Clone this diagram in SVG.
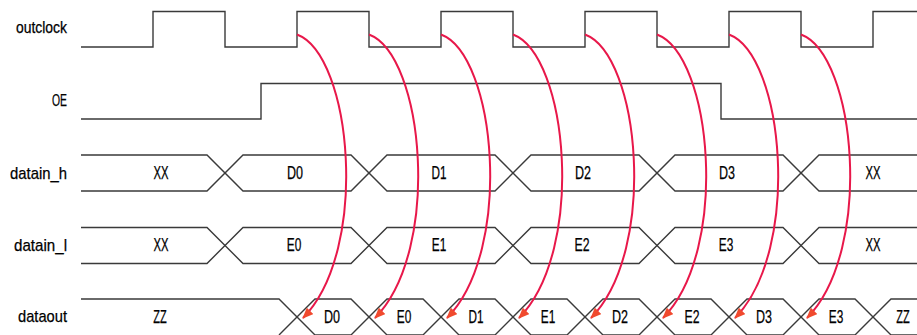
<svg xmlns="http://www.w3.org/2000/svg" width="917" height="335" viewBox="0 0 917 335">
<style>
.w{fill:none;stroke:#3a3a3a;stroke-width:1.4}
.c{fill:none;stroke:#e8184a;stroke-width:2}
.lb{font-family:"Liberation Sans Narrow","Liberation Sans",Arial,sans-serif;font-size:17px;fill:#000;text-anchor:end;stroke:#000;stroke-width:0.25}
.v{font-family:"Liberation Sans Narrow","Liberation Sans",Arial,sans-serif;font-size:17.5px;fill:#000;text-anchor:middle;stroke:#000;stroke-width:0.25}
</style>
<defs>
<marker id="ah" markerUnits="userSpaceOnUse" markerWidth="11" markerHeight="9" refX="10" refY="4.5" orient="auto">
<path d="M0,0 L11,4.5 L0,9 z" fill="#f04a2e"/>
</marker>
</defs>
<rect width="917" height="335" fill="#fff"/>
<g id="outclock">
<text class="lb" x="67" y="33" textLength="51" lengthAdjust="spacingAndGlyphs">outclock</text>
<path class="w" d="M81,47 H153 V11.5 H225 V47 H297 V11.5 H369 V47 H441 V11.5 H513 V47 H585 V11.5 H657 V47 H729 V11.5 H801 V47 H873 V11.5 H917"/>
</g>
<g id="OE">
<text class="lb" x="67" y="106" textLength="15" lengthAdjust="spacingAndGlyphs">OE</text>
<path class="w" d="M81,119 H261 V83.5 H721 V119 H917"/>
</g>
<g id="datain_h">
<text class="lb" x="67" y="179" textLength="57" lengthAdjust="spacingAndGlyphs">datain_h</text>
<path class="w" d="M81,155 H207 L243,191 H351 L387,155 H495 L531,191 H639 L675,155 H783 L819,191 H917"/>
<path class="w" d="M81,191 H207 L243,155 H351 L387,191 H495 L531,155 H639 L675,191 H783 L819,155 H917"/>
<text class="v" x="161" y="178.5" textLength="15" lengthAdjust="spacingAndGlyphs">XX</text>
<text class="v" x="295" y="178.5" textLength="16" lengthAdjust="spacingAndGlyphs">D0</text>
<text class="v" x="439" y="178.5" textLength="15" lengthAdjust="spacingAndGlyphs">D1</text>
<text class="v" x="583" y="178.5" textLength="16" lengthAdjust="spacingAndGlyphs">D2</text>
<text class="v" x="727" y="178.5" textLength="16" lengthAdjust="spacingAndGlyphs">D3</text>
<text class="v" x="873" y="178.5" textLength="15" lengthAdjust="spacingAndGlyphs">XX</text>
</g>
<g id="datain_l">
<text class="lb" x="67" y="251" textLength="53" lengthAdjust="spacingAndGlyphs">datain_l</text>
<path class="w" d="M81,227.5 H207 L243,263.5 H351 L387,227.5 H495 L531,263.5 H639 L675,227.5 H783 L819,263.5 H917"/>
<path class="w" d="M81,263.5 H207 L243,227.5 H351 L387,263.5 H495 L531,227.5 H639 L675,263.5 H783 L819,227.5 H917"/>
<text class="v" x="161" y="251" textLength="15" lengthAdjust="spacingAndGlyphs">XX</text>
<text class="v" x="294" y="251" textLength="14.5" lengthAdjust="spacingAndGlyphs">E0</text>
<text class="v" x="439" y="251" textLength="14.5" lengthAdjust="spacingAndGlyphs">E1</text>
<text class="v" x="582" y="251" textLength="15" lengthAdjust="spacingAndGlyphs">E2</text>
<text class="v" x="726" y="251" textLength="14.5" lengthAdjust="spacingAndGlyphs">E3</text>
<text class="v" x="873" y="251" textLength="15" lengthAdjust="spacingAndGlyphs">XX</text>
</g>
<g id="dataout">
<text class="lb" x="67" y="322" textLength="49" lengthAdjust="spacingAndGlyphs">dataout</text>
<path class="w" d="M81,299 H279 L315,335 H351 L387,299 H423 L459,335 H495 L531,299 H567 L603,335 H639 L675,299 H711 L747,335 H783 L819,299 H855 L891,335 H917"/>
<path class="w" d="M279,335 L315,299 H351 L387,335 H423 L459,299 H495 L531,335 H567 L603,299 H639 L675,335 H711 L747,299 H783 L819,335 H855 L891,299 H917"/>
<text class="v" x="160" y="322.5" textLength="13.5" lengthAdjust="spacingAndGlyphs">ZZ</text>
<text class="v" x="332" y="322.5" textLength="16" lengthAdjust="spacingAndGlyphs">D0</text>
<text class="v" x="404" y="322.5" textLength="14.5" lengthAdjust="spacingAndGlyphs">E0</text>
<text class="v" x="476" y="322.5" textLength="15" lengthAdjust="spacingAndGlyphs">D1</text>
<text class="v" x="548" y="322.5" textLength="14.5" lengthAdjust="spacingAndGlyphs">E1</text>
<text class="v" x="620" y="322.5" textLength="16" lengthAdjust="spacingAndGlyphs">D2</text>
<text class="v" x="692" y="322.5" textLength="15" lengthAdjust="spacingAndGlyphs">E2</text>
<text class="v" x="764" y="322.5" textLength="16" lengthAdjust="spacingAndGlyphs">D3</text>
<text class="v" x="836" y="322.5" textLength="14.5" lengthAdjust="spacingAndGlyphs">E3</text>
<text class="v" x="903" y="322.5" textLength="13.5" lengthAdjust="spacingAndGlyphs">ZZ</text>
</g>
<g id="connectors">
<path class="c" marker-end="url(#ah)" d="M297,34.5 C352,55 370,250 303,318"/>
<path class="c" marker-end="url(#ah)" d="M369,34.5 C424,55 442,250 375,318"/>
<path class="c" marker-end="url(#ah)" d="M441,34.5 C496,55 514,250 447,318"/>
<path class="c" marker-end="url(#ah)" d="M513,34.5 C568,55 586,250 519,318"/>
<path class="c" marker-end="url(#ah)" d="M585,34.5 C640,55 658,250 591,318"/>
<path class="c" marker-end="url(#ah)" d="M657,34.5 C712,55 730,250 663,318"/>
<path class="c" marker-end="url(#ah)" d="M729,34.5 C784,55 802,250 735,318"/>
<path class="c" marker-end="url(#ah)" d="M801,34.5 C856,55 874,250 807,318"/>
</g>
</svg>
